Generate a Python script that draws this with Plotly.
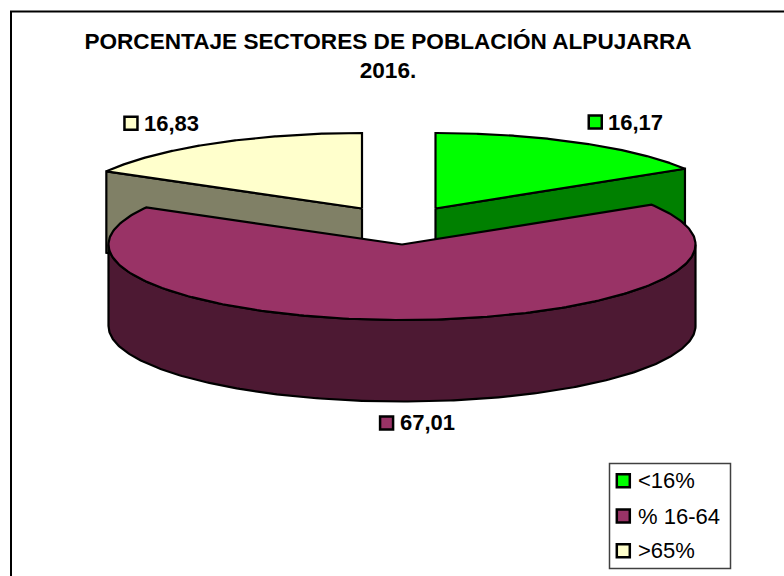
import numpy as np
import plotly.graph_objects as go

# ---- data ----
categories = ["<16%", "% 16-64", ">65%"]
values = [16.17, 67.01, 16.83]
value_labels = ["16,17", "67,01", "16,83"]
title_text = "PORCENTAJE SECTORES DE POBLACIÓN ALPUJARRA<br>2016."

# ---- styles ----
top_colors = ["#00FF00", "#993366", "#FFFFCC"]
side_colors = ["#008000", "#4D1933", "#808066"]
FONT = "Liberation Sans, Arial, sans-serif"

# ---- pseudo-3D projection (pixel-scaled axes) ----
A, B, DEPTH = 293.5, 75.5, 81.5
centers = [(435.5, 208.5), (402, 244.5), (362.0, 208.5)]  # exploded slices
total = sum(values)
bounds = np.cumsum([0] + values) / total * 2 * np.pi


def rim(i, t):
    cx, cy = centers[i]
    return cx + A * np.sin(t), cy - B * np.cos(t)


def add_poly(fig, x, y, color):
    fig.add_trace(go.Scatter(x=list(x), y=list(y), mode="lines", fill="toself", fillcolor=color,
                             line=dict(color="black", width=2.2), hoverinfo="skip", showlegend=False))


def wedge(fig, i):
    t = np.linspace(bounds[i], bounds[i + 1], 240)
    x, y = rim(i, t)
    cx, cy = centers[i]
    add_poly(fig, np.r_[cx, x, cx], np.r_[cy, y, cy], top_colors[i])


def cut_face(fig, i, t0):
    cx, cy = centers[i]
    ex, ey = rim(i, t0)
    add_poly(fig, [cx, ex, ex, cx, cx], [cy, ey, ey + DEPTH, cy + DEPTH, cy], side_colors[i])


def outer_face(fig, i):
    t = np.linspace(np.pi / 2, 3 * np.pi / 2, 240)
    x, y = rim(i, t)
    add_poly(fig, np.r_[x, x[::-1], x[0]], np.r_[y, y[::-1] + DEPTH, y[0]], side_colors[i])


fig = go.Figure()
# Back slices first, front slice over them
cut_face(fig, 0, bounds[1])
wedge(fig, 0)
cut_face(fig, 2, bounds[2])
wedge(fig, 2)
outer_face(fig, 1)
wedge(fig, 1)

# Data labels anchored to the rim at each slice's mid-angle
label_offsets = [(17, -20.5), (-21.5, 103), (-83, -20)]
mids = (bounds[:-1] + bounds[1:]) / 2
annotations = []
for i, (dx, dy) in enumerate(label_offsets):
    mx, my = rim(i, mids[i])
    kx, ky = mx + dx, my + dy
    fig.add_trace(go.Scatter(x=[kx], y=[ky], mode="markers", hoverinfo="skip", showlegend=False,
                             marker=dict(symbol="square", size=13, color=top_colors[i],
                                         line=dict(color="black", width=2.5))))
    annotations.append(dict(x=kx + 11, y=ky, xref="x", yref="y", text=value_labels[i], showarrow=False,
                            xanchor="left", yanchor="middle",
                            font=dict(family=FONT, size=22, color="black", weight="bold")))

# Legend box
legend_y = [480.7, 516, 550.7]
fig.add_trace(go.Scatter(x=[623.3] * 3, y=legend_y, mode="markers", hoverinfo="skip", showlegend=False,
                         marker=dict(symbol="square", size=13, color=top_colors,
                                     line=dict(color="black", width=2.5))))
for cat, ly in zip(categories, legend_y):
    annotations.append(dict(x=636, y=ly, xref="x", yref="y", text=cat.replace("<", "&lt;"), showarrow=False,
                            xanchor="left", yanchor="middle",
                            font=dict(family=FONT, size=22, color="black")))

fig.update_layout(
    width=784, height=576, margin=dict(l=0, r=0, t=0, b=0),
    paper_bgcolor="white", plot_bgcolor="white", showlegend=False,
    xaxis=dict(range=[0, 784], visible=False, fixedrange=True),
    yaxis=dict(range=[576, 0], visible=False, fixedrange=True),
    title=dict(text="<b>" + title_text.replace("<br>", "</b><br><b>") + "</b>", x=388 / 784, xanchor="center",
               y=1 - 49 / 576, yanchor="top", pad=dict(t=0),
               font=dict(family=FONT, size=22.6, color="black")),
    shapes=[
        dict(type="rect", xref="x", yref="y", x0=11, y0=11.5, x1=810, y1=600,
             line=dict(color="black", width=2), layer="below"),
        dict(type="rect", xref="x", yref="y", x0=609.5, y0=463.5, x1=730.5, y1=568.5,
             line=dict(color="#404040", width=1.5), fillcolor="white", layer="below"),
    ],
    annotations=annotations,
)
fig.write_html("out.html", config=dict(displayModeBar=False),
               post_script="document.body.style.margin='0';document.body.style.overflow='hidden';")
